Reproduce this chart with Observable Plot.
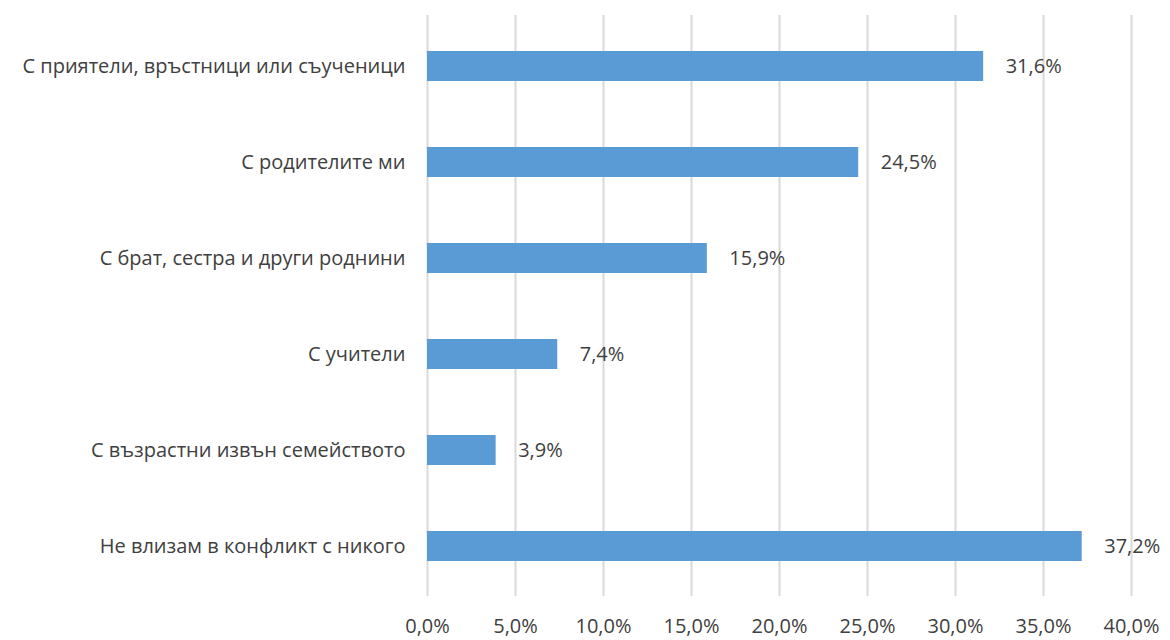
<!DOCTYPE html>
<html>
<head>
<meta charset="utf-8">
<script src="https://cdn.jsdelivr.net/npm/d3@7"></script>
<script src="https://cdn.jsdelivr.net/npm/@observablehq/plot@0.6"></script>
<style>
  html, body { margin: 0; padding: 0; background: #fff; }
  #chart { width: 1170px; height: 640px; }
</style>
</head>
<body>
<div id="chart"></div>
<script>
const categories = [
  "С приятели, връстници или съученици",
  "С родителите ми",
  "С брат, сестра и други роднини",
  "С учители",
  "С възрастни извън семейството",
  "Не влизам в конфликт с никого"
];
const values = [31.6, 24.5, 15.9, 7.4, 3.9, 37.2];
const xTicks = [0, 5, 10, 15, 20, 25, 30, 35, 40];

const data = categories.map((c, i) => ({category: c, value: values[i]}));
const fmt = d => d.toFixed(1).replace(".", ",") + "%";

const chart = Plot.plot({
  width: 1170,
  height: 640,
  marginLeft: 427,
  marginRight: 39,
  marginTop: 15,
  marginBottom: 44,
  style: {fontFamily: "'Open Sans', sans-serif", fontSize: "20px", color: "#404040", background: "#fff"},
  x: {domain: [0, 40], ticks: xTicks, tickFormat: fmt, label: null},
  y: {domain: categories, paddingInner: 0.69, paddingOuter: 0.345, label: null},
  marks: [
    Plot.ruleX(xTicks, {stroke: "#d9d9d9", strokeWidth: 2, strokeOpacity: 1}),
    Plot.barX(data, {x: "value", y: "category", fill: "#5b9bd5"}),
    Plot.text(data, {x: "value", y: "category", text: d => fmt(d.value), textAnchor: "start", dx: 22, fill: "#404040", fontSize: 20}),
    Plot.axisX({ticks: xTicks, tickFormat: fmt, tickSize: 0, tickPadding: 22, fontSize: 20, fill: "#404040", label: null}),
    Plot.axisY({tickSize: 0, tickPadding: 22, fontSize: 20, fill: "#404040", label: null})
  ]
});
document.getElementById("chart").appendChild(chart);
</script>
</body>
</html>
